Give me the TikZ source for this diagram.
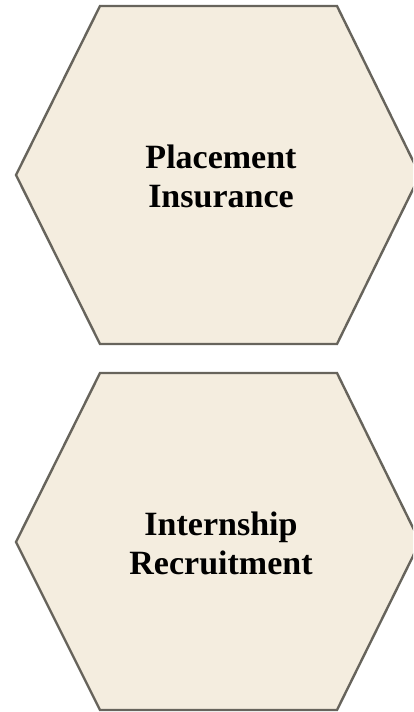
\documentclass[tikz,border=0pt]{standalone}
\usepackage{fontspec}
\setmainfont{Liberation Serif}
\usepackage{xcolor}
\definecolor{hexFill}{HTML}{F4EDDF}
\definecolor{hexEdge}{HTML}{67645C}

\begin{document}
\begin{tikzpicture}[x=1pt,y=-1pt,
    hexcell/.style={fill=hexFill, draw=hexEdge, line width=2.4pt, line join=miter},
    hexlabel/.style={align=center, font=\bfseries\fontsize{34}{39}\selectfont, inner sep=0pt}]
  \clip (0,0) rectangle (413,712);
  \useasboundingbox (0,0) rectangle (413,712);
  % upper cell
  \filldraw[hexcell] (100,6) -- (337,6) -- (420,175) -- (337,344) -- (100,344) -- (16,175) -- cycle;
  \node[hexlabel] (placement) at (221,176) {Placement\\Insurance};
  % lower cell
  \filldraw[hexcell] (100,373) -- (337,373) -- (420,542) -- (337,710) -- (100,710) -- (16,542) -- cycle;
  \node[hexlabel] (internship) at (221,543) {Internship\\Recruitment};
\end{tikzpicture}
\end{document}
